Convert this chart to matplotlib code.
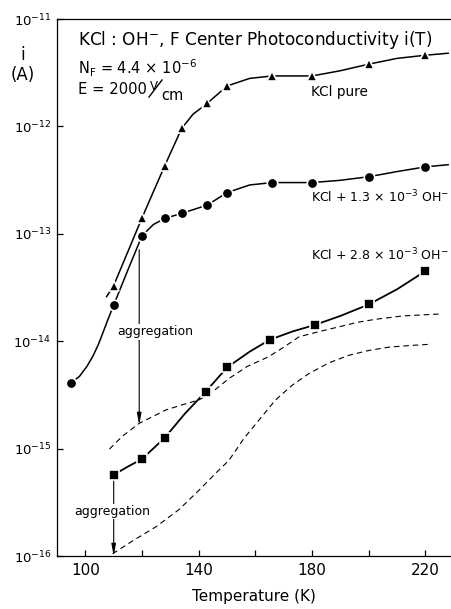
import matplotlib
matplotlib.use('Agg')
import matplotlib.pyplot as plt
from matplotlib.lines import Line2D
from matplotlib.ticker import FixedLocator, NullLocator

# -------------------------------------------
# values
# KCl pure (triangles)
pure_T = [110, 120, 128, 134, 143, 150, 166, 180, 200, 220]
pure_i = [3.3e-14, 1.41e-13, 4.3e-13, 9.6e-13, 1.64e-12, 2.38e-12, 2.95e-12, 2.95e-12, 3.8e-12, 4.6e-12]
# line of the pure curve (runs a bit past the end markers)
pure_line_T = [107.5, 110, 120, 128, 134, 138, 143, 150, 158, 166, 180, 190, 200, 210, 220, 228]
pure_line_i = [2.6e-14, 3.3e-14, 1.41e-13, 4.3e-13, 9.6e-13, 1.3e-12, 1.64e-12, 2.38e-12, 2.8e-12, 2.95e-12, 2.95e-12, 3.3e-12, 3.8e-12, 4.3e-12, 4.6e-12, 4.8e-12]

# KCl + 1.3e-3 OH- (circles)
oh13_T = [95, 110, 120, 128, 134, 143, 150, 166, 180, 200, 220]
oh13_i = [4.1e-15, 2.17e-14, 9.6e-14, 1.39e-13, 1.55e-13, 1.85e-13, 2.42e-13, 3.0e-13, 3.0e-13, 3.4e-13, 4.2e-13]
oh13_line_T = [95, 97.9, 100.5, 102.6, 104.5, 106.1, 108, 110, 115, 120, 124, 128, 134, 143, 150, 158, 166, 180, 190, 200, 210, 220, 228]
oh13_line_i = [4.1e-15, 4.7e-15, 5.8e-15, 7.2e-15, 9.2e-15, 1.18e-14, 1.6e-14, 2.17e-14, 4.6e-14, 9.6e-14, 1.22e-13, 1.39e-13, 1.55e-13, 1.85e-13, 2.42e-13, 2.85e-13, 3.0e-13, 3.0e-13, 3.15e-13, 3.4e-13, 3.8e-13, 4.2e-13, 4.4e-13]

# KCl + 2.8e-3 OH- (squares)
oh28_T = [110, 120, 128, 142.5, 150, 165, 181, 200, 220]
oh28_i = [5.7e-16, 8.0e-16, 1.26e-15, 3.4e-15, 5.7e-15, 1.03e-14, 1.42e-14, 2.2e-14, 4.5e-14]
oh28_line_T = [110, 115, 120, 128, 135, 142.5, 150, 158, 165, 173, 181, 190, 200, 210, 220]
oh28_line_i = [5.7e-16, 6.8e-16, 8.0e-16, 1.26e-15, 2.1e-15, 3.4e-15, 5.7e-15, 8.0e-15, 1.03e-14, 1.23e-14, 1.42e-14, 1.72e-14, 2.2e-14, 3.05e-14, 4.5e-14]

# dashed curves
dash_hi_T = [108.5, 113, 119, 124, 128.4, 134, 140.1, 145, 150.7, 157, 164.8, 170, 175.4, 182, 189.4, 196, 202.4, 212, 224.6]
dash_hi_i = [9.9e-16, 1.3e-15, 1.72e-15, 2.0e-15, 2.29e-15, 2.55e-15, 2.84e-15, 3.4e-15, 4.5e-15, 5.8e-15, 7.2e-15, 8.8e-15, 1.1e-14, 1.22e-14, 1.36e-14, 1.5e-14, 1.6e-14, 1.72e-14, 1.79e-14]
dash_lo_T = [109.6, 117, 124.9, 133, 140.1, 146, 150.7, 156, 161.3, 167.1, 173, 178.9, 186, 193, 200, 207, 214, 221.1]
dash_lo_i = [1.05e-16, 1.4e-16, 1.87e-16, 2.7e-16, 4.1e-16, 5.9e-16, 7.8e-16, 1.25e-15, 1.85e-15, 2.84e-15, 3.9e-15, 5.0e-15, 6.3e-15, 7.4e-15, 8.2e-15, 8.8e-15, 9.1e-15, 9.35e-15]

# aggregation arrows: (T, start i, end i)
arrow1 = (119, 7.1e-14, 1.66e-15)
arrow2 = (110, 5.1e-16, 1.0e-16)

x_ticks = [100, 120, 140, 160, 180, 200, 220]
x_labels = ['100', '', '140', '', '180', '', '220']
y_ticks = [1e-16, 1e-15, 1e-14, 1e-13, 1e-12, 1e-11]
y_labels = [r'$\mathregular{10^{-16}}$', r'$\mathregular{10^{-15}}$', r'$\mathregular{10^{-14}}$',
            r'$\mathregular{10^{-13}}$', r'$\mathregular{10^{-12}}$', r'$\mathregular{10^{-11}}$']

# -------------------------------------------
plt.rcParams['font.family'] = ['DejaVu Sans']
plt.rcParams['mathtext.fontset'] = 'dejavusans'

W, H = 451, 609
fig = plt.figure(figsize=(W / 100, H / 100), dpi=100)
ax = fig.add_axes([0.1264, 0.0870, 0.8736, 0.8818])
ax.set_yscale('log')
ax.set_xlim(90, 229)
ax.set_ylim(1e-16, 1e-11)

mk = dict(color='black', linestyle='none',
          markeredgecolor='white', markeredgewidth=1.2, zorder=4)

# solid curves + markers
ax.plot(pure_line_T, pure_line_i, color='black', lw=1.1, zorder=3)
ax.plot(pure_T, pure_i, marker='^', markersize=7.5, **mk)
ax.plot(oh13_line_T, oh13_line_i, color='black', lw=1.1, zorder=3)
ax.plot(oh13_T, oh13_i, marker='o', markersize=7.5, **mk)
ax.plot(oh28_line_T, oh28_line_i, color='black', lw=1.3, zorder=3)
ax.plot(oh28_T, oh28_i, marker='s', markersize=7, **mk)

# dashed curves
ax.plot(dash_hi_T, dash_hi_i, color='black', lw=0.8, linestyle=(0, (5, 3.5)), zorder=2)
ax.plot(dash_lo_T, dash_lo_i, color='black', lw=0.8, linestyle=(0, (5, 3.5)), zorder=2)

# aggregation arrows
for (t, a, b) in [arrow1, arrow2]:
    ax.annotate('', xy=(t, b), xytext=(t, a),
                arrowprops=dict(arrowstyle='-|>,head_length=0.7,head_width=0.13',
                                color='black', lw=0.8, shrinkA=0, shrinkB=0), zorder=1)
ax.text(124.5, 1.22e-14, 'aggregation', fontsize=9, ha='center', va='center',
        bbox=dict(facecolor='white', edgecolor='none', pad=1.0), zorder=5)
ax.text(109.5, 2.6e-16, 'aggregation', fontsize=9, ha='center', va='center',
        bbox=dict(facecolor='white', edgecolor='none', pad=1.0), zorder=5)

# series labels
ax.text(179.5, 2.1e-12, 'KCl pure', fontsize=9.8, ha='left', va='center')
ax.text(179.5, 2.2e-13, r'KCl + 1.3 × 10$^{-3}$ OH$^{-}$', fontsize=9, ha='left', va='center')
ax.text(179.5, 6.3e-14, r'KCl + 2.8 × 10$^{-3}$ OH$^{-}$', fontsize=9, ha='left', va='center')

# header text (positions in pixels from top-left)
def ftext(x, y, s, **kw):
    fig.text(x / W, 1 - y / H, s, **kw)

ftext(78, 40, r'KCl : OH$^{-}$, F Center Photoconductivity i(T)', fontsize=12.2, ha='left', va='center')
ftext(78, 68, r'N$_\mathregular{F}$ = 4.4 × 10$^{-6}$', fontsize=10.5, ha='left', va='center')
ftext(78, 90, 'E = 2000', fontsize=10.6, ha='left', va='center')
ftext(154, 87, 'V', fontsize=8.5, ha='center', va='center')
fig.add_artist(Line2D([149 / W, 162 / W], [1 - 97 / H, 1 - 80 / H], color='black', lw=1.0))
ftext(172, 96, 'cm', fontsize=10.5, ha='center', va='center')
ftext(23, 55, 'i', fontsize=12, ha='center', va='center')
ftext(23, 75, '(A)', fontsize=12, ha='center', va='center')

# axes cosmetics
ax.xaxis.set_major_locator(FixedLocator(x_ticks))
ax.set_xticklabels(x_labels)
ax.yaxis.set_major_locator(FixedLocator(y_ticks))
ax.yaxis.set_minor_locator(NullLocator())
ax.set_yticklabels(y_labels)
ax.tick_params(direction='in', length=4, width=0.9, labelsize=11, pad=5)
ax.tick_params(axis='y', labelsize=9.5, pad=4)
ax.spines['right'].set_visible(False)
for s in ['left', 'bottom', 'top']:
    ax.spines[s].set_linewidth(0.9)
ax.set_xlabel('Temperature (K)', fontsize=11, labelpad=8)

fig.savefig('out.png', dpi=100)
